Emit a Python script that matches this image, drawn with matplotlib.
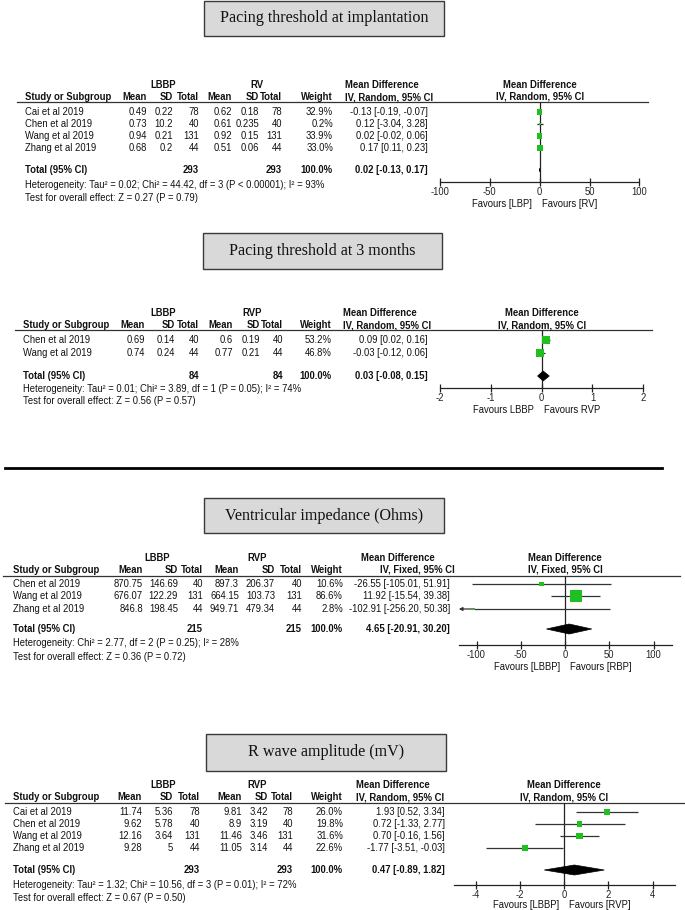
import matplotlib
matplotlib.use('Agg')
import matplotlib.pyplot as plt
from matplotlib.patches import Rectangle
import numpy as np

W, H, DPI = 685, 910, 100
FS = 6.85
SANS = ['Liberation Sans', 'DejaVu Sans']
SERIF = ['Liberation Serif', 'DejaVu Serif']
plt.rcParams['font.family'] = SANS
plt.rcParams['font.size'] = FS

# ------------------------------------------------------------------ data
# Panel 1: Pacing threshold at implantation
p1_title = "Pacing threshold at implantation"
p1_groups = ("LBBP", "RV")
p1_studies = ["Cai et al 2019", "Chen et al 2019", "Wang et al 2019", "Zhang et al 2019"]
p1_lbbp_mean = [0.49, 0.73, 0.94, 0.68]
p1_lbbp_sd = [0.22, 10.2, 0.21, 0.2]
p1_lbbp_n = [78, 40, 131, 44]
p1_rv_mean = [0.62, 0.61, 0.92, 0.51]
p1_rv_sd = [0.18, 0.235, 0.15, 0.06]
p1_rv_n = [78, 40, 131, 44]
p1_weight = [32.9, 0.2, 33.9, 33.0]
p1_md = [-0.13, 0.12, 0.02, 0.17]
p1_lo = [-0.19, -3.04, -0.02, 0.11]
p1_hi = [-0.07, 3.28, 0.06, 0.23]
p1_total = [0.02, -0.13, 0.17]
p1_method = "IV, Random, 95% CI"
p1_het = "Heterogeneity: Tau² = 0.02; Chi² = 44.42, df = 3 (P < 0.00001); I² = 93%"
p1_test = "Test for overall effect: Z = 0.27 (P = 0.79)"
p1_ticks = [-100, -50, 0, 50, 100]
p1_favours = ("Favours [LBP]", "Favours [RV]")

# Panel 2: Pacing threshold at 3 months
p2_title = "Pacing threshold at 3 months"
p2_groups = ("LBBP", "RVP")
p2_studies = ["Chen et al 2019", "Wang et al 2019"]
p2_lbbp_mean = [0.69, 0.74]
p2_lbbp_sd = [0.14, 0.24]
p2_lbbp_n = [40, 44]
p2_rv_mean = [0.6, 0.77]
p2_rv_sd = [0.19, 0.21]
p2_rv_n = [40, 44]
p2_weight = [53.2, 46.8]
p2_md = [0.09, -0.03]
p2_lo = [0.02, -0.12]
p2_hi = [0.16, 0.06]
p2_total = [0.03, -0.08, 0.15]
p2_method = "IV, Random, 95% CI"
p2_het = "Heterogeneity: Tau² = 0.01; Chi² = 3.89, df = 1 (P = 0.05); I² = 74%"
p2_test = "Test for overall effect: Z = 0.56 (P = 0.57)"
p2_ticks = [-2, -1, 0, 1, 2]
p2_favours = ("Favours LBBP", "Favours RVP")

# Panel 3: Ventricular impedance (Ohms)
p3_title = "Ventricular impedance (Ohms)"
p3_groups = ("LBBP", "RVP")
p3_studies = ["Chen et al 2019", "Wang et al 2019", "Zhang et al 2019"]
p3_lbbp_mean = [870.75, 676.07, 846.8]
p3_lbbp_sd = [146.69, 122.29, 198.45]
p3_lbbp_n = [40, 131, 44]
p3_rv_mean = [897.3, 664.15, 949.71]
p3_rv_sd = [206.37, 103.73, 479.34]
p3_rv_n = [40, 131, 44]
p3_weight = [10.6, 86.6, 2.8]
p3_md = [-26.55, 11.92, -102.91]
p3_lo = [-105.01, -15.54, -256.20]
p3_hi = [51.91, 39.38, 50.38]
p3_total = [4.65, -20.91, 30.20]
p3_method = "IV, Fixed, 95% CI"
p3_het = "Heterogeneity: Chi² = 2.77, df = 2 (P = 0.25); I² = 28%"
p3_test = "Test for overall effect: Z = 0.36 (P = 0.72)"
p3_ticks = [-100, -50, 0, 50, 100]
p3_favours = ("Favours [LBBP]", "Favours [RBP]")

# Panel 4: R wave amplitude (mV)
p4_title = "R wave amplitude (mV)"
p4_groups = ("LBBP", "RVP")
p4_studies = ["Cai et al 2019", "Chen et al 2019", "Wang et al 2019", "Zhang et al 2019"]
p4_lbbp_mean = [11.74, 9.62, 12.16, 9.28]
p4_lbbp_sd = [5.36, 5.78, 3.64, 5]
p4_lbbp_n = [78, 40, 131, 44]
p4_rv_mean = [9.81, 8.9, 11.46, 11.05]
p4_rv_sd = [3.42, 3.19, 3.46, 3.14]
p4_rv_n = [78, 40, 131, 44]
p4_weight = [26.0, 19.8, 31.6, 22.6]
p4_md = [1.93, 0.72, 0.70, -1.77]
p4_lo = [0.52, -1.33, -0.16, -3.51]
p4_hi = [3.34, 2.77, 1.56, -0.03]
p4_total = [0.47, -0.89, 1.82]
p4_method = "IV, Random, 95% CI"
p4_het = "Heterogeneity: Tau² = 1.32; Chi² = 10.56, df = 3 (P = 0.01); I² = 72%"
p4_test = "Test for overall effect: Z = 0.67 (P = 0.50)"
p4_ticks = [-4, -2, 0, 2, 4]
p4_favours = ("Favours [LBBP]", "Favours [RVP]")

# ------------------------------------------------------------------ layout (pixels)
panels = [
    dict(title=p1_title, groups=p1_groups, studies=p1_studies,
         cols=[p1_lbbp_mean, p1_lbbp_sd, p1_lbbp_n, p1_rv_mean, p1_rv_sd, p1_rv_n],
         weight=p1_weight, md=p1_md, lo=p1_lo, hi=p1_hi, total=p1_total,
         method=p1_method, het=p1_het, test=p1_test, ticks=p1_ticks, favours=p1_favours,
         box=(204, 1, 444, 36),
         colx=[147, 173, 199, 232, 259, 282, 333], grpx=(163, 257), study_x=25,
         ci_right=428, mdh_x=(345, 345), uline=(17, 648),
         y_grp=85, y_hdr=97, y_ul=102, rows=[112, 124, 136, 148], y_tot=170,
         y_het=185, y_test=198, y_axis=182, y_fav=204,
         zero=537, ppu=203 / 200, axis_rng=(-100, 100), sq=0.95, dh=1.5, cicol='#222222'),
    dict(title=p2_title, groups=p2_groups, studies=p2_studies,
         cols=[p2_lbbp_mean, p2_lbbp_sd, p2_lbbp_n, p2_rv_mean, p2_rv_sd, p2_rv_n],
         weight=p2_weight, md=p2_md, lo=p2_lo, hi=p2_hi, total=p2_total,
         method=p2_method, het=p2_het, test=p2_test, ticks=p2_ticks, favours=p2_favours,
         box=(203, 233, 442, 269),
         colx=[145, 175, 199, 233, 260, 283, 332], grpx=(163, 252), study_x=23,
         ci_right=428, mdh_x=(343, 343), uline=(15, 652),
         y_grp=313, y_hdr=325, y_ul=330, rows=[340, 353], y_tot=376,
         y_het=389, y_test=401, y_axis=388, y_fav=410,
         zero=539, ppu=207 / 4, axis_rng=(-2, 2), sq=1.1, dh=5, cicol='#222222'),
    dict(title=p3_title, groups=p3_groups, studies=p3_studies,
         cols=[p3_lbbp_mean, p3_lbbp_sd, p3_lbbp_n, p3_rv_mean, p3_rv_sd, p3_rv_n],
         weight=p3_weight, md=p3_md, lo=p3_lo, hi=p3_hi, total=p3_total,
         method=p3_method, het=p3_het, test=p3_test, ticks=p3_ticks, favours=p3_favours,
         box=(204, 498, 444, 533),
         colx=[143, 178, 203, 239, 275, 302, 343], grpx=(157, 257), study_x=13,
         ci_right=450, mdh_x=(361, 380), uline=(3, 680),
         y_grp=558, y_hdr=570, y_ul=576, rows=[584, 596, 609], y_tot=629,
         y_het=643, y_test=657, y_axis=645, y_fav=667,
         zero=565, ppu=177 / 200, axis_rng=(-120, 121), sq=1.3, dh=5, cicol='#333333'),
    dict(title=p4_title, groups=p4_groups, studies=p4_studies,
         cols=[p4_lbbp_mean, p4_lbbp_sd, p4_lbbp_n, p4_rv_mean, p4_rv_sd, p4_rv_n],
         weight=p4_weight, md=p4_md, lo=p4_lo, hi=p4_hi, total=p4_total,
         method=p4_method, het=p4_het, test=p4_test, ticks=p4_ticks, favours=p4_favours,
         box=(206, 734, 446, 771),
         colx=[142, 173, 200, 242, 268, 293, 343], grpx=(163, 257), study_x=13,
         ci_right=445, mdh_x=(356, 356), uline=(5, 685),
         y_grp=785, y_hdr=797, y_ul=803, rows=[812, 824, 836, 848], y_tot=870,
         y_het=885, y_test=898, y_axis=885, y_fav=905,
         zero=564, ppu=177 / 8, axis_rng=(-4.95, 5.0), sq=1.15, dh=5, cicol='#333333'),
]

GREEN = '#1fc01f'

fig = plt.figure(figsize=(W / DPI, H / DPI), dpi=DPI)
bg = fig.add_axes([0, 0, 1, 1])
bg.set_xlim(0, W)
bg.set_ylim(H, 0)
bg.axis('off')


def txt(x, y, s, ha='left', bold=False, **kw):
    bg.text(x, y, s, ha=ha, va='center', fontsize=kw.pop('fs', FS),
            fontweight='bold' if bold else 'normal', color=kw.pop('color', '#111111'), **kw)


def fmt(v):
    return format(v, 'g')


for P in panels:
    # title box
    x0, y0, x1, y1 = P['box']
    bg.add_patch(Rectangle((x0, y0), x1 - x0, y1 - y0, facecolor='#d9d9d9',
                           edgecolor='#3a3a3a', lw=1.0))
    bg.text((x0 + x1) / 2, (y0 + y1) / 2, P['title'], ha='center', va='center',
            fontsize=11.6, family=SERIF, color='#111111')

    cx = P['colx']
    # group labels
    txt(P['grpx'][0], P['y_grp'], P['groups'][0], ha='center', bold=True)
    txt(P['grpx'][1], P['y_grp'], P['groups'][1], ha='center', bold=True)
    txt(P['mdh_x'][0], P['y_grp'], "Mean Difference", bold=True)
    # header row
    txt(P['study_x'], P['y_hdr'], "Study or Subgroup", bold=True)
    for x, h in zip(cx, ["Mean", "SD", "Total", "Mean", "SD", "Total", "Weight"]):
        txt(x, P['y_hdr'], h, ha='right', bold=True)
    txt(P['mdh_x'][1], P['y_hdr'], P['method'], bold=True)
    bg.plot(P['uline'], [P['y_ul'], P['y_ul']], color='#333333', lw=0.9)

    # study rows
    for i, (name, y) in enumerate(zip(P['studies'], P['rows'])):
        txt(P['study_x'], y, name)
        for j, col in enumerate(P['cols']):
            txt(cx[j], y, fmt(col[i]), ha='right')
        txt(cx[6], y, f"{P['weight'][i]:.1f}%", ha='right')
        txt(P['ci_right'], y, f"{P['md'][i]:.2f} [{P['lo'][i]:.2f}, {P['hi'][i]:.2f}]", ha='right')

    # totals
    yt = P['y_tot']
    txt(P['study_x'], yt, "Total (95% CI)", bold=True)
    txt(cx[2], yt, str(sum(P['cols'][2])), ha='right', bold=True)
    txt(cx[5], yt, str(sum(P['cols'][5])), ha='right', bold=True)
    txt(cx[6], yt, f"{sum(P['weight']):.1f}%", ha='right', bold=True)
    t = P['total']
    txt(P['ci_right'], yt, f"{t[0]:.2f} [{t[1]:.2f}, {t[2]:.2f}]", ha='right', bold=True)
    txt(P['study_x'], P['y_het'], P['het'])
    txt(P['study_x'], P['y_test'], P['test'])

    # forest axes
    zero, ppu = P['zero'], P['ppu']
    axL, axR = 440.0, 685.0
    top_px, bot_px = P['y_grp'] - 8, P['y_fav'] + 4
    ax = fig.add_axes([axL / W, 1 - bot_px / H, (axR - axL) / W, (bot_px - top_px) / H])
    ax.set_facecolor('none')
    xmin, xmax = (axL - zero) / ppu, (axR - zero) / ppu
    ax.set_xlim(xmin, xmax)
    ax.set_ylim(bot_px, top_px)
    for s in ['left', 'right', 'top']:
        ax.spines[s].set_visible(False)
    ax.set_yticks([])
    ax.spines['bottom'].set_position(('data', P['y_axis']))
    ax.spines['bottom'].set_bounds(*P['axis_rng'])
    ax.spines['bottom'].set_linewidth(0.9)
    ax.spines['bottom'].set_color('#222222')
    ax.set_xticks(P['ticks'])
    ax.set_xticklabels([str(v) for v in P['ticks']])
    ax.tick_params(axis='x', direction='inout', length=6, width=0.9, labelsize=FS,
                   pad=0.5, colors='#222222')

    # headers
    ax.text(0, P['y_grp'], "Mean Difference", ha='center', va='center', fontsize=FS,
            fontweight='bold', color='#111111')
    ax.text(0, P['y_hdr'], P['method'], ha='center', va='center', fontsize=FS,
            fontweight='bold', color='#111111')
    # zero line
    ax.vlines(0, P['y_ul'], P['y_axis'], color='#222222', lw=0.9)

    # CIs & squares
    lo_lim, hi_lim = P['axis_rng']
    for i, y in enumerate(P['rows']):
        lo, hi, md = P['lo'][i], P['hi'][i], P['md'][i]
        chi = min(hi, hi_lim)
        if lo < lo_lim:
            ax.annotate('', xy=(lo_lim, y), xytext=(md, y),
                        arrowprops=dict(arrowstyle='-|>', color=P['cicol'], lw=0.9,
                                        mutation_scale=5, shrinkA=0, shrinkB=0))
            ax.hlines(y, md, chi, color=P['cicol'], lw=0.9)
        else:
            ax.hlines(y, lo, chi, color=P['cicol'], lw=0.9)
        side_px = max(P['sq'] * np.sqrt(P['weight'][i]), 2.0)
        ax.scatter([md], [y], marker='s', s=(side_px * 0.72) ** 2, color=GREEN,
                   edgecolors='none', zorder=3)

    # diamond
    est, tlo, thi = P['total']
    dh = P['dh']
    ax.fill([tlo, est, thi, est], [yt, yt - dh, yt, yt + dh], color='black', lw=0.5,
            edgecolor='black', zorder=3)

    # favours
    txt(zero - 5, P['y_fav'], P['favours'][0], ha='right')
    txt(zero + 5, P['y_fav'], P['favours'][1], ha='left')

# thick separator line
bg.plot([5, 662], [468, 468], color='black', lw=2.0)

fig.savefig('out.png', dpi=DPI)
